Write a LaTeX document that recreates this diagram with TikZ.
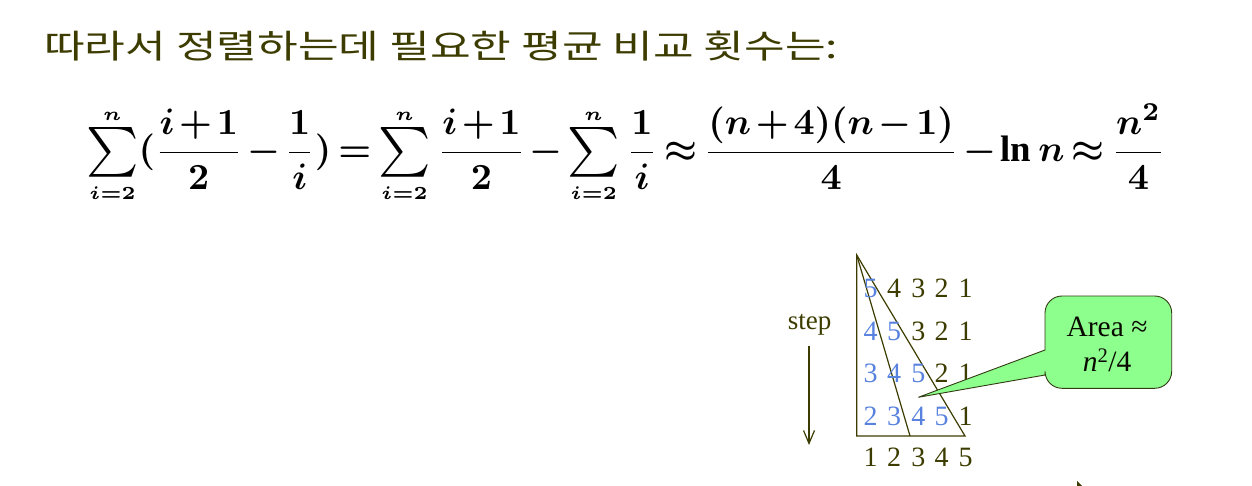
\documentclass[tikz,border=0pt]{standalone}
\usepackage{amsmath}
\usepackage{fontspec}
\setmainfont{Liberation Serif}
\newfontfamily\cjk{Noto Sans CJK KR}
\usetikzlibrary{arrows.meta}
\definecolor{olivetxt}{RGB}{60,60,0}
\definecolor{bluetxt}{RGB}{88,130,222}
\definecolor{callfill}{RGB}{140,255,140}
\definecolor{callline}{RGB}{50,60,20}
\newcommand{\mysum}{\mathop{\vcenter{\hbox{\scalebox{1.35}{$\textstyle\sum$}}}}\limits_{\scriptscriptstyle i=2}^{\scriptscriptstyle n}}
\tikzset{
  dig/.style={anchor=base, inner sep=0pt, font=\fontsize{28}{28}\selectfont, text=olivetxt},
  bdig/.style={dig, text=bluetxt},
  tri/.style={draw=olivetxt, line width=1.2pt},
  calltxt/.style={anchor=base, inner sep=0pt, font=\fontsize{29.5}{29.5}\selectfont, text=black!85!olivetxt},
}
\begin{document}
\begin{tikzpicture}[x=1pt,y=-1pt]
\useasboundingbox (0,0) rectangle (1252,486);
% title
\node[anchor=base west, inner sep=0pt, text=olivetxt] (title) at (44,59)
  {\resizebox{794pt}{27.5pt}{\cjk 따라서 정렬하는데 필요한 평균 비교 횟수는:}};
% equation
\node[anchor=base west, inner sep=0pt] (eq) at (86,161.5)
  {\resizebox{1079pt}{!}{\medmuskip=2mu\thickmuskip=3mu\boldmath$\displaystyle
   \mysum(\frac{i+1}{2}-\frac{1}{i})=\mysum\frac{i+1}{2}-\mysum\frac{1}{i}\approx\frac{(n+4)(n-1)}{4}-\ln n\approx\frac{n^{2}}{4}$}};
% step label and arrow
\node[anchor=base, inner sep=0pt, font=\fontsize{27}{27}\selectfont, text=olivetxt] (step) at (809.5,329) {step};
\coordinate (arrA) at (809,346);
\coordinate (arrB) at (809,445);
\draw[olivetxt, line width=1.2pt, -{Straight Barb[length=13pt,width=11pt]}] (arrA) -- (arrB);
% triangle
\coordinate (top) at (856.7,255);
\coordinate (bl) at (856.7,436);
\coordinate (br) at (965,436);
\coordinate (mid) at (910,436);
\draw[tri] (top) -- (bl) -- (br) -- cycle;
\draw[tri] (top) -- (mid);
% digits
\foreach \r/\y in {1/297.3,2/340.7,3/382.7,4/425} {
  \foreach \c/\x in {1/870.5,2/894,3/918.3,4/941.7,5/965.7} {
    \ifnum\c>\r
      \node[dig] (d\r\c) at (\x,\y) {\pgfmathtruncatemacro{\w}{6-\c}\w};
    \else
      \node[bdig] (d\r\c) at (\x,\y) {\pgfmathtruncatemacro{\w}{5-\r+\c}\w};
    \fi
  }
}
\foreach \c/\x in {1/870.5,2/894,3/918.3,4/941.7,5/965.7} {
  \node[dig] (b\c) at (\x,466.7) {\c};
}
% callout
\coordinate (tip) at (918.3,397.3);
\draw[callline, fill=callfill, line width=0.9pt]
  (tip) -- (1045,350)
  {[rounded corners=17pt] -- (1045,296) -- (1171.7,296) -- (1171.7,388.3) -- (1045,388.3)}
  -- (1045,375) -- cycle;
\node[calltxt] (area) at (1107,336.7) {Area ≈};
\node[calltxt] (nsq) at (1107,371.7) {\textit{n}\textsuperscript{2}/4};
% cut-off mark at bottom edge
\fill[olivetxt] (1077,481) -- (1082,486) -- (1077,486) -- cycle;
\end{tikzpicture}
\end{document}
